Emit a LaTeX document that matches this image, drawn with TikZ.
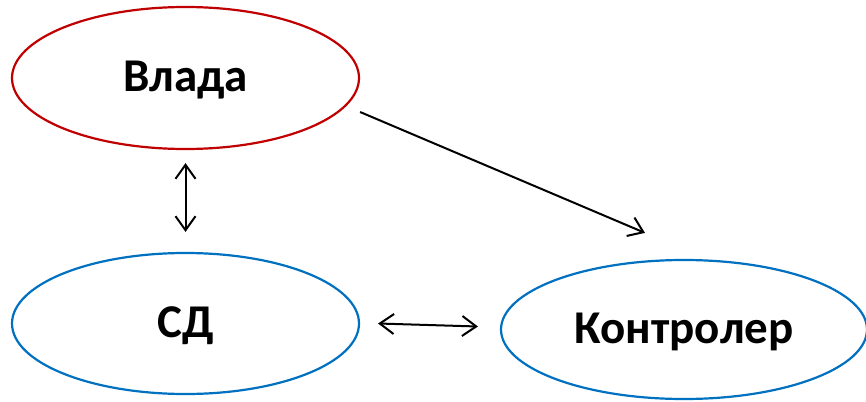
\documentclass[tikz,border=0pt]{standalone}
\usepackage{fontspec}
\setmainfont{Carlito}
\usetikzlibrary{shapes.geometric,arrows.meta}
\definecolor{vred}{HTML}{C00000}
\definecolor{vblue}{HTML}{0070C0}
\begin{document}
\begin{tikzpicture}[x=1pt,y=-1pt,
  oval/.style={ellipse,draw,line width=2.2pt,inner sep=0pt,
    text height=27pt,text depth=0pt,
    font=\fontsize{47}{50}\selectfont\bfseries},
  link/.style={line width=2pt,black}]
\useasboundingbox (0,0) rectangle (866,401);
\node[oval,draw=vred,minimum width=347pt,minimum height=142pt] (vlada) at (185.5,78) {Влада};
\node[oval,draw=vblue,minimum width=347pt,minimum height=141pt] (sd) at (185.5,323.5) {СД};
\node[oval,draw=vblue,minimum width=366pt,minimum height=139pt] (kontr) at (684,329.5) {Контролер};
\draw[link,-{Straight Barb[length=14pt,width=20pt]}] ([yshift=-34pt]vlada.east) -- ([xshift=-39pt,yshift=26pt]kontr.north);
\draw[link,{Straight Barb[length=14pt,width=20pt]}-{Straight Barb[length=14pt,width=20pt]}] ([yshift=-13pt]vlada.south) -- ([yshift=20pt]sd.north);
\draw[link,{Straight Barb[length=14pt,width=20pt]}-{Straight Barb[length=14pt,width=20pt]}] ([xshift=18pt]sd.east) -- ([xshift=-22pt,yshift=3pt]kontr.west);
\end{tikzpicture}
\end{document}
